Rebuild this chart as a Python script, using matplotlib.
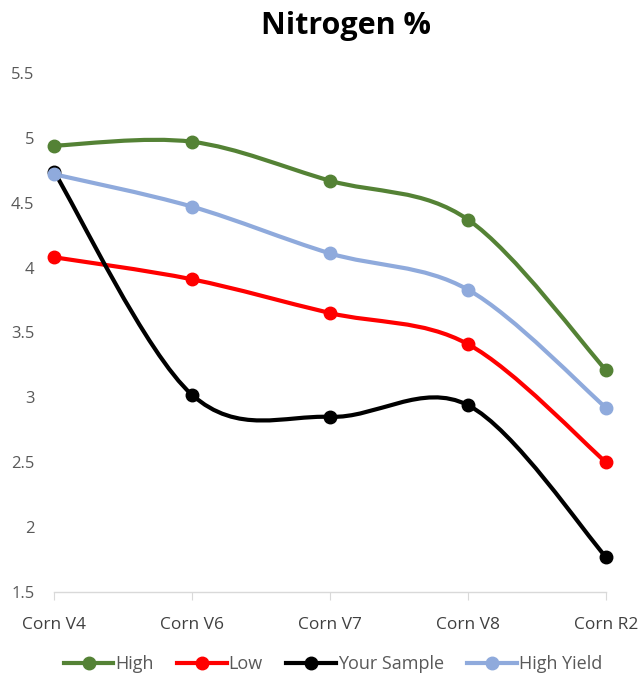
import numpy as np
import matplotlib.pyplot as plt
from matplotlib.path import Path
from matplotlib.patches import PathPatch
from matplotlib.lines import Line2D

plt.rcParams['font.family'] = ['Open Sans', 'DejaVu Sans']

# chart data
stages = ["Corn V4", "Corn V6", "Corn V7", "Corn V8", "Corn R2"]
high = [4.94, 4.97, 4.67, 4.37, 3.21]
low = [4.08, 3.91, 3.65, 3.41, 2.50]
your_sample = [4.74, 3.02, 2.85, 2.94, 1.77]
high_yield = [4.72, 4.47, 4.11, 3.83, 2.92]

series = [("High", high, "#548235"),
          ("Low", low, "#FF0000"),
          ("Your Sample", your_sample, "#000000"),
          ("High Yield", high_yield, "#8FAADC")]


def smooth_path(x, y):
    # Excel-like smoothed line: Catmull-Rom segments as cubic beziers
    pts = np.column_stack([x, y]).astype(float)
    n = len(pts)
    verts = [pts[0]]
    codes = [Path.MOVETO]
    for i in range(n - 1):
        p0 = pts[i - 1] if i > 0 else pts[i]
        p1 = pts[i]
        p2 = pts[i + 1]
        p3 = pts[i + 2] if i + 2 < n else pts[i + 1]
        c1 = p1 + (p2 - p0) / 6.0
        c2 = p2 - (p3 - p1) / 6.0
        verts += [c1, c2, p2]
        codes += [Path.CURVE4] * 3
    return Path(verts, codes)


fig = plt.figure(figsize=(6.41, 6.75), dpi=100)
ax = fig.add_axes([54 / 641, 1 - 592 / 675, (606 - 54) / 641, (592 - 73) / 675])

x = np.arange(len(stages))
handles = []
for name, vals, color in series:
    patch = PathPatch(smooth_path(x, vals), facecolor="none", edgecolor=color,
                      lw=3, capstyle="round", joinstyle="round", clip_on=False)
    ax.add_patch(patch)
    ax.plot(x, vals, "o", color=color, markersize=9, clip_on=False, zorder=3)
    handles.append(Line2D([0], [0], color=color, lw=3, marker="o", markersize=9))

ax.set_xlim(0, 4)
ax.set_ylim(1.5, 5.5)
ax.set_yticks([1.5, 2, 2.5, 3, 3.5, 4, 4.5, 5, 5.5])
ax.set_yticklabels(["1.5", "2", "2.5", "3", "3.5", "4", "4.5", "5", "5.5"])
ax.set_xticks(x)
ax.set_xticklabels(stages)

for side in ["top", "right", "left"]:
    ax.spines[side].set_visible(False)
ax.spines["bottom"].set_color("#d9d9d9")
ax.spines["bottom"].set_linewidth(1)
ax.tick_params(axis="y", length=0, pad=14, labelsize=12, labelcolor="#595959")
ax.tick_params(axis="x", length=6, color="#d9d9d9", pad=12, labelsize=12.5, labelcolor="#404040")

fig.text(346 / 641, 1 - 26 / 675, "Nitrogen %", ha="center", va="center",
         fontsize=22, fontweight="bold")

fig.legend(handles, [s[0] for s in series], loc="center", ncol=4,
           bbox_to_anchor=(333 / 641, 1 - 664 / 675), frameon=False,
           handlelength=2.75, handletextpad=0.1, columnspacing=1.3,
           fontsize=13, labelcolor="#595959")

fig.savefig("out.png", dpi=100)
